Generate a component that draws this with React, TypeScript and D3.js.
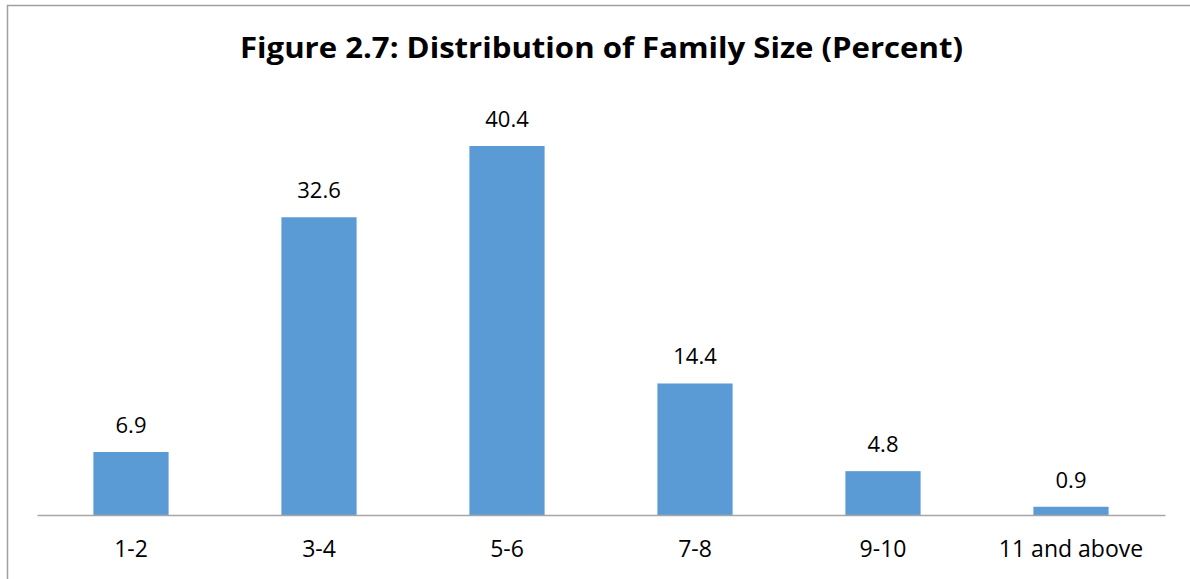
import * as d3 from 'd3'
import {useRef, useEffect} from 'react'

const categories: string[] = ['1-2', '3-4', '5-6', '7-8', '9-10', '11 and above']
const percents: number[] = [6.9, 32.6, 40.4, 14.4, 4.8, 0.9]
const title = 'Figure 2.7: Distribution of Family Size (Percent)'

const svgWidth = 1190
const svgHeight = 579
const margin = {left: 37, right: 25, top: 104, bottom: 64}
const fontFamily = "'Open Sans', 'DejaVu Sans', sans-serif"

export default function App() {
  const svgRef = useRef<SVGSVGElement>(null)

  useEffect(() => {
    const SVG = d3.select(svgRef.current)
    SVG.selectAll('*').remove()

    const xScale = d3.scaleBand<string>()
      .domain(categories)
      .range([margin.left, svgWidth - margin.right])
      .paddingInner(0.6)
      .paddingOuter(0.3)
    const yScale = d3.scaleLinear()
      .domain([0, 45])
      .range([svgHeight - margin.bottom, margin.top])

    // chart frame
    SVG.append('rect')
      .attr('x', 7.5).attr('y', 5.5)
      .attr('width', svgWidth).attr('height', svgHeight)
      .attr('fill', 'white')
      .attr('stroke', '#a0a0a0')
      .attr('stroke-width', 1.5)

    SVG.append('text')
      .attr('x', 601.5)
      .attr('y', 58)
      .attr('text-anchor', 'middle')
      .attr('font-family', fontFamily)
      .attr('font-weight', 'bold')
      .attr('font-size', 29)
      .attr('textLength', 723)
      .attr('lengthAdjust', 'spacingAndGlyphs')
      .attr('fill', '#000')
      .text(title)

    SVG.selectAll('rect.bar')
      .data(percents)
      .enter()
      .append('rect')
      .attr('class', 'bar')
      .attr('x', (d, i) => xScale(categories[i])!)
      .attr('y', d => yScale(d))
      .attr('width', xScale.bandwidth())
      .attr('height', d => yScale(0) - yScale(d))
      .attr('fill', '#5b9bd5')

    SVG.selectAll('text.value')
      .data(percents)
      .enter()
      .append('text')
      .attr('class', 'value')
      .attr('x', (d, i) => xScale(categories[i])! + xScale.bandwidth() / 2)
      .attr('y', d => yScale(d) - 19)
      .attr('text-anchor', 'middle')
      .attr('font-family', fontFamily)
      .attr('font-size', 22)
      .attr('fill', '#000')
      .text(d => d.toFixed(1))

    const xAxis = d3.axisBottom(xScale).tickSize(0)
    const axisG = SVG.append('g')
      .attr('transform', `translate(0,${yScale(0)})`)
      .call(xAxis)
    axisG.select('.domain').attr('stroke', '#a6a6a6').attr('stroke-width', 1.5)
    axisG.selectAll('text')
      .attr('y', 42)
      .attr('dy', 0)
      .attr('font-family', fontFamily)
      .attr('font-size', 23)
      .attr('fill', '#000')
  }, [])

  return (
    <svg ref={svgRef} width={svgWidth} height={svgHeight}
      style={{position: 'absolute', left: 0, top: 0}}></svg>
  )
}
